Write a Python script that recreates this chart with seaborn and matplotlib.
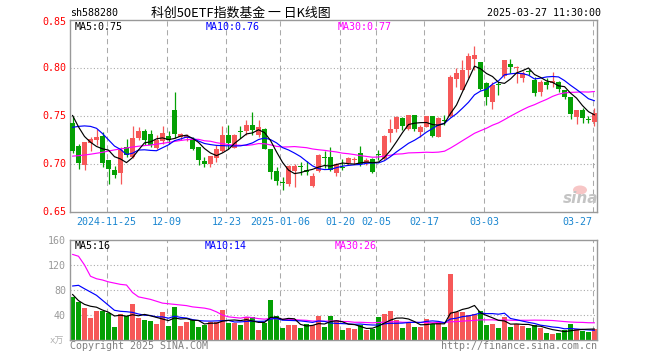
import numpy as np
import pandas as pd
import matplotlib
matplotlib.use("Agg")
import matplotlib.pyplot as plt
from matplotlib.patches import Ellipse
import seaborn as sns

# ---------------- data ----------------
open_ = [0.743, 0.7188, 0.699, 0.7225, 0.725, 0.7296, 0.705, 0.6938, 0.6912, 0.718,
         0.7076, 0.7276, 0.7344, 0.732, 0.7165, 0.7245, 0.7300, 0.757, 0.7282, 0.7278,
         0.7268, 0.718, 0.7032, 0.6999, 0.7070, 0.7136, 0.7309, 0.7171, 0.7337, 0.7344,
         0.7406, 0.7302, 0.7372, 0.7164, 0.6926, 0.6814, 0.6792, 0.6928, 0.6974, 0.6937,
         0.6777, 0.6935, 0.7070, 0.7079, 0.6912, 0.6964, 0.7011, 0.7042, 0.7115, 0.7018,
         0.7056, 0.7100, 0.7053, 0.7323, 0.7365, 0.7480, 0.7365, 0.7514, 0.7340, 0.7393,
         0.7504, 0.7289, 0.7458, 0.7500, 0.7885, 0.7775, 0.7983, 0.8094, 0.8069, 0.7844,
         0.7653, 0.7830, 0.7920, 0.8042, 0.8003, 0.7896, 0.7967, 0.7879, 0.7757, 0.7861,
         0.7844, 0.7861, 0.7774, 0.7698, 0.7497, 0.7566, 0.7470, 0.7445]
high = [0.750, 0.7216, 0.7232, 0.7285, 0.7372, 0.7337, 0.705, 0.6985, 0.718, 0.7259,
        0.7404, 0.739, 0.7372, 0.7361, 0.7302, 0.7398, 0.7347, 0.7753, 0.7326, 0.7313,
        0.7285, 0.7185, 0.7077, 0.7087, 0.7198, 0.7400, 0.7406, 0.7315, 0.7400, 0.7458,
        0.7545, 0.7465, 0.7380, 0.7164, 0.6973, 0.6869, 0.6990, 0.7005, 0.7026, 0.7030,
        0.6907, 0.7112, 0.7134, 0.7180, 0.7010, 0.7060, 0.7080, 0.7080, 0.7191, 0.7063,
        0.7063, 0.7150, 0.7306, 0.7469, 0.7504, 0.7490, 0.7518, 0.7514, 0.7410, 0.7504,
        0.7504, 0.7497, 0.7514, 0.7931, 0.8000, 0.8087, 0.8156, 0.8232, 0.8069, 0.7861,
        0.7861, 0.7861, 0.8087, 0.8094, 0.8024, 0.7976, 0.7990, 0.7906, 0.7875, 0.7896,
        0.7965, 0.7872, 0.7774, 0.7698, 0.7566, 0.7583, 0.7504, 0.7583]
low = [0.712, 0.695, 0.6938, 0.7139, 0.7198, 0.6972, 0.680, 0.6862, 0.6792, 0.7076,
       0.7068, 0.725, 0.7206, 0.718, 0.716, 0.7208, 0.7208, 0.7275, 0.7257, 0.7240,
       0.7150, 0.6997, 0.6973, 0.6973, 0.7024, 0.7128, 0.7164, 0.7165, 0.7275, 0.7302,
       0.7309, 0.7288, 0.7156, 0.6845, 0.678, 0.6735, 0.6775, 0.6766, 0.6888, 0.6886,
       0.6765, 0.6920, 0.6960, 0.6929, 0.6880, 0.6944, 0.6993, 0.7000, 0.6983, 0.6993,
       0.6907, 0.7046, 0.7046, 0.7237, 0.7341, 0.7358, 0.7358, 0.7351, 0.7282, 0.7390,
       0.7285, 0.7289, 0.7410, 0.7490, 0.7809, 0.7775, 0.7896, 0.7983, 0.7774, 0.7618,
       0.7573, 0.7722, 0.7896, 0.7955, 0.7851, 0.7861, 0.7931, 0.7712, 0.7712, 0.7781,
       0.7809, 0.7757, 0.7677, 0.7469, 0.7421, 0.7428, 0.7434, 0.7400]
close = [0.714, 0.7014, 0.7229, 0.7262, 0.7285, 0.7016, 0.6948, 0.6884, 0.7146, 0.7094,
         0.7275, 0.7344, 0.7258, 0.7199, 0.725, 0.7326, 0.725, 0.732, 0.732, 0.7300,
         0.716, 0.7042, 0.6999, 0.7087, 0.7164, 0.7302, 0.7226, 0.7309, 0.7333, 0.7413,
         0.7354, 0.7389, 0.7164, 0.692, 0.6822, 0.6808, 0.6983, 0.6983, 0.6970, 0.6921,
         0.6879, 0.7100, 0.7066, 0.6940, 0.7002, 0.6960, 0.7063, 0.7046, 0.7004, 0.7046,
         0.6924, 0.7095, 0.7295, 0.7365, 0.7497, 0.7400, 0.7514, 0.7365, 0.7393, 0.7504,
         0.7295, 0.7480, 0.7453, 0.7913, 0.7948, 0.7983, 0.8128, 0.8139, 0.7781, 0.7698,
         0.7826, 0.7824, 0.8087, 0.8010, 0.8008, 0.7948, 0.7963, 0.7747, 0.7861, 0.7826,
         0.7872, 0.7781, 0.7705, 0.7525, 0.7566, 0.7480, 0.7465, 0.7538]
volume = [68.8, 60.8, 51.2, 35.2, 46.4, 45.9, 43.7, 20.8, 41.6, 38.4,
          57.6, 35.2, 32.0, 30.4, 25.6, 44.8, 22.4, 52.8, 22.4, 28.8,
          31.5, 20.8, 24.5, 28.8, 28.8, 48.0, 27.2, 27.2, 24.0, 36.8,
          36.8, 16.0, 27.2, 64.0, 38.4, 19.2, 24.0, 24.0, 19.2, 25.6,
          24.0, 38.4, 20.8, 38.4, 32.0, 16.0, 19.2, 17.6, 23.5, 16.0,
          18.1, 36.8, 41.6, 46.4, 32.0, 19.2, 28.8, 20.8, 20.8, 33.6,
          25.6, 28.8, 20.8, 105.6, 44.8, 44.8, 39.5, 41.6, 46.4, 24.0,
          26.1, 19.2, 36.8, 20.8, 25.6, 22.4, 19.2, 24.0, 19.2, 11.2,
          9.6, 11.2, 16.0, 25.6, 17.6, 14.4, 12.8, 17.6]

# moving-average values before enough visible days exist
ma5_lead = [0.751, 0.739, 0.729, 0.723]
ma10_lead = [0.7385, 0.7395, 0.7400, 0.7395, 0.7375, 0.7320, 0.7255, 0.7190, 0.7155]
ma30_lead = [0.7085, 0.7090, 0.7097, 0.7105, 0.7115, 0.7125, 0.7138, 0.7150, 0.7160, 0.7170,
             0.7180, 0.7188, 0.7195, 0.7200, 0.7210, 0.7218, 0.7228, 0.7238, 0.7248, 0.7256,
             0.7260, 0.7260, 0.7245, 0.7240, 0.7225, 0.7215, 0.7205, 0.7200, 0.7198]
vma5_lead = [73, 63, 57, 54]
vma10_lead = [86.4, 87.5, 82, 76.8, 71.5, 63.5, 55.5, 47.5, 45.9]
vma30_lead = [137, 134, 120, 102, 98, 96, 93, 91, 89, 88,
              76, 69, 67, 65, 62, 59, 58, 57, 56, 55,
              53, 52, 51, 49, 45, 40, 37, 36, 35]

date_tick_idx = [6, 16, 26, 35, 45, 51, 59, 69, 87]
date_tick_labels = ["2024-11-25", "12-09", "12-23", "2025-01-06", "01-20",
                    "02-05", "02-17", "03-03", "03-27"]
price_ticks = [0.85, 0.80, 0.75, 0.70, 0.65]
price_tick_labels = ["0.85", "0.80", "0.75", "0.70", "0.65"]
vol_ticks = [160, 120, 80, 40]
vol_tick_labels = ["160", "120", "80", "40"]
price_ma_labels = ["MA5:0.75", "MA10:0.76", "MA30:0.77"]
vol_ma_labels = ["MA5:16", "MA10:14", "MA30:26"]

title_code = "sh588280"
title_name = "科创50ETF指数基金 一 日K线图"
title_time = "2025-03-27 11:30:00"


def moving_average(values, window, lead):
    s = pd.Series(values, dtype=float).rolling(window).mean()
    s.iloc[:len(lead)] = lead
    return s.to_numpy()


# ---------------- style ----------------
sns.set_style("white")
plt.rcParams["font.family"] = ["DejaVu Sans Mono", "Noto Sans CJK SC"]

RED = "#f65858"
GREEN = "#04a004"
GRID = "#aaaaaa"
FRAME = "#999999"
W, H = 660, 360


def fx(x):
    return x / W


def fy(y):
    return 1 - y / H


fig = plt.figure(figsize=(6.6, 3.6), dpi=100)
fig.patch.set_facecolor("white")

P_TOP, P_BOT = 20.3, 212.3
V_TOP, V_BOT = 240.0, 340.0
X_L, X_R = 70.0, 597.0

ax = fig.add_axes([fx(X_L), fy(P_BOT), (X_R - X_L) / W, (P_BOT - P_TOP) / H])
axv = fig.add_axes([fx(X_L), fy(V_BOT), (X_R - X_L) / W, (V_BOT - V_TOP) / H])

n = len(close)
idx = np.arange(n)
o = np.array(open_)
c = np.array(close)
hi = np.array(high)
lo = np.array(low)
vol = np.array(volume)
up = c >= o
cols = np.where(up, RED, GREEN)

xlim = (-2.5 / 6, 87 + 2.5 / 6)

for a in (ax, axv):
    a.set_facecolor("white")
    for g in date_tick_idx:
        a.axvline(g - 1 / 3, color=GRID, lw=0.75, ls=(0, (5, 3.5)), zorder=0)
    for s in a.spines.values():
        s.set_color(FRAME)
        s.set_linewidth(1.0)
        s.set_visible(True)
    a.set_xticks([])
    a.set_yticks([])

for v in [0.70, 0.75, 0.80]:
    ax.axhline(v, color=GRID, lw=0.8, ls=(0, (1, 2)), zorder=0)
for v in [40, 80, 120]:
    axv.axhline(v, color=GRID, lw=0.8, ls=(0, (1, 2)), zorder=0)

# candles
ax.vlines(idx, lo, hi, colors=cols, lw=0.9, zorder=2)
body_bottom = np.minimum(o, c)
body_h = np.maximum(np.abs(c - o), 0.0011)
ax.bar(idx, body_h, bottom=body_bottom, width=0.75, color=cols, linewidth=0, zorder=3)

# price MAs
ma5 = moving_average(close, 5, ma5_lead)
ma10 = moving_average(close, 10, ma10_lead)
ma30 = moving_average(close, 30, ma30_lead)
for m, col in [(ma30, "#ff00ff"), (ma10, "#0000ff"), (ma5, "#000000")]:
    sns.lineplot(x=idx, y=m, ax=ax, color=col, linewidth=0.85, legend=False, zorder=4)

# volume bars
axv.bar(idx, vol, width=0.83, color=cols, linewidth=0, zorder=2)
vma5 = moving_average(volume, 5, vma5_lead)
vma10 = moving_average(volume, 10, vma10_lead)
vma30 = moving_average(volume, 30, vma30_lead)
for m, col in [(vma30, "#ff00ff"), (vma10, "#0000ff"), (vma5, "#000000")]:
    sns.lineplot(x=idx, y=m, ax=axv, color=col, linewidth=0.85, legend=False, zorder=4)

ax.set_xlim(*xlim)
ax.set_ylim(0.65, 0.85)
axv.set_xlim(*xlim)
axv.set_ylim(0, 160)
for a in (ax, axv):
    a.set_xlabel("")
    a.set_ylabel("")
    a.set_xticks([])
    a.set_yticks([])

FS = 7.2
# price tick labels
for v, t in zip(price_ticks, price_tick_labels):
    y = P_BOT - (v - 0.65) / 0.20 * (P_BOT - P_TOP)
    if v == 0.85:
        y += 1.5
    fig.text(fx(66), fy(y), t, color="#ff0000", fontsize=FS, ha="right", va="center")

# volume tick labels
for v, t in zip(vol_ticks, vol_tick_labels):
    y = V_BOT - v / 160 * (V_BOT - V_TOP)
    fig.text(fx(66), fy(y + 0.7), t, color="#999999", fontsize=FS, ha="right", va="center")
fig.text(fx(64), fy(341), "x万", color="#b0b0b0", fontsize=6.5, ha="right", va="center")

# date labels
for i, t in zip(date_tick_idx, date_tick_labels):
    xpix = X_L + (i - 1 / 3 - xlim[0]) / (xlim[1] - xlim[0]) * (X_R - X_L)
    ha = "right" if i == date_tick_idx[-1] else "center"
    fig.text(fx(xpix), fy(221.7), t, color="#1a86d0", fontsize=FS, ha=ha, va="center")

# MA headers
for xp, t, col in zip([75, 206, 338], price_ma_labels, ["#000000", "#0000ff", "#ff00ff"]):
    fig.text(fx(xp), fy(26.5), t, color=col, fontsize=FS, ha="left", va="center")
for xp, t, col in zip([75, 205, 335], vol_ma_labels, ["#000000", "#0000ff", "#ff00ff"]):
    fig.text(fx(xp), fy(246), t, color=col, fontsize=FS, ha="left", va="center")

# titles
fig.text(fx(70), fy(13), title_code, color="#000000", fontsize=FS, ha="left", va="center")
fig.text(fx(151), fy(13), title_name, color="#000000", fontsize=9.3, ha="left", va="center",
         family=["Noto Sans CJK SC", "DejaVu Sans"])
fig.text(fx(601), fy(13), title_time, color="#000000", fontsize=FS, ha="right", va="center")

# footer
fig.text(fx(70), fy(346), "Copyright 2025 SINA.COM", color="#808080", fontsize=FS,
         ha="left", va="center")
fig.text(fx(597), fy(346), "http://finance.sina.com.cn", color="#808080", fontsize=FS,
         ha="right", va="center")

# sina watermark
fig.patches.append(Ellipse((fx(580), fy(190)), 14 / W, 9 / H, transform=fig.transFigure,
                           facecolor="#f6b8b8", edgecolor="none", alpha=0.8))
fig.text(fx(581), fy(198), "sina", color="#c4c4c4", fontsize=11, fontweight="bold",
         style="italic", ha="center", va="center", family=["DejaVu Sans"])

fig.savefig("out.png", dpi=100, facecolor="white")
